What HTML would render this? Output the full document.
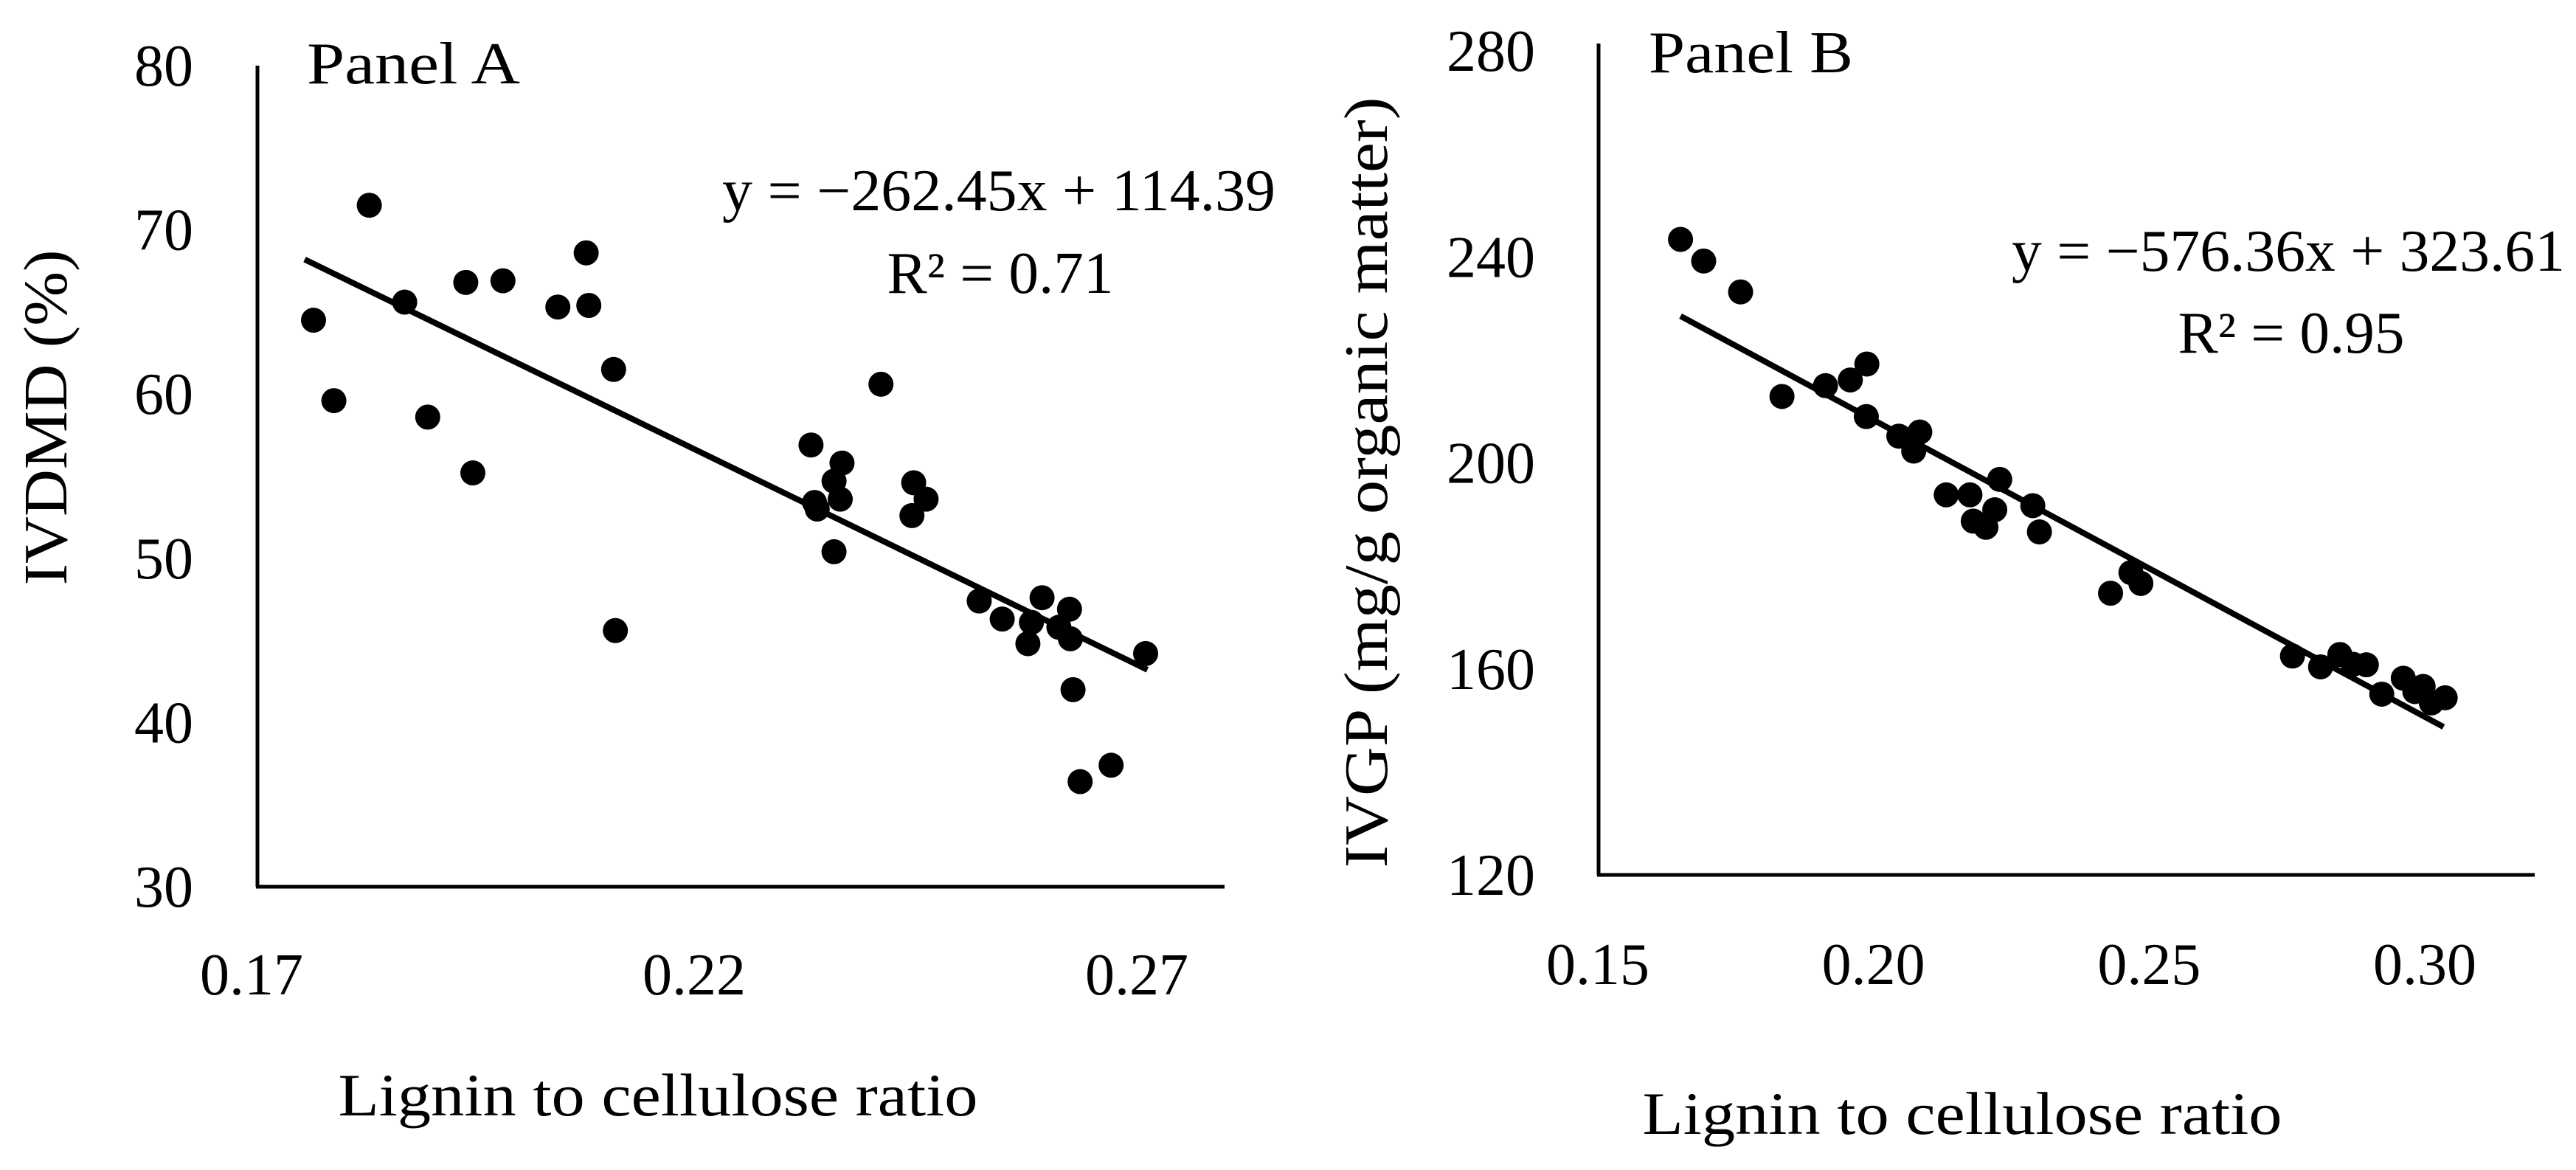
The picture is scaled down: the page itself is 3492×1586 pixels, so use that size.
<!DOCTYPE html>
<html><head><meta charset="utf-8"><style>
html,body{margin:0;padding:0;background:#fff;}
svg{display:block;}
text{font-family:"Liberation Serif",serif;fill:#000;}
</style></head><body>
<svg id="chart" width="3492" height="1586" viewBox="0 0 3492 1586" xmlns="http://www.w3.org/2000/svg">
<g id="panelA"></g>
<g id="panelB"></g>
</svg>
<script>
const NS="http://www.w3.org/2000/svg";
// Panel A data
const aX=[0.1770,0.1793,0.1833,0.1873,0.1899,0.1942,0.1950,0.1984,0.2046,0.2078,0.2081,0.2109,0.2111,0.2332,0.2336,0.2339,0.2358,0.2367,0.2365,0.2358,0.2411,0.2448,0.2462,0.2446,0.2522,0.2548,0.2593,0.2581,0.2577,0.2612,0.2624,0.2625,0.2628,0.2636,0.2671,0.2710];
const aY=[64.5,59.6,71.5,65.6,58.6,66.8,55.2,66.9,65.3,68.6,65.4,61.5,45.6,56.9,53.4,53.0,54.7,55.8,53.6,50.4,60.6,54.6,53.6,52.6,47.4,46.3,47.6,46.1,44.8,45.8,46.9,45.1,42.0,36.4,37.4,44.2];
const aXTicks=[0.17,0.22,0.27];
const aYTicks=[30,40,50,60,70,80];
const aFit=[-262.45,114.39];
const aFitRange=[0.176,0.2712];
// Panel B data
const bX=[0.1650,0.1692,0.1759,0.1834,0.1913,0.1958,0.1988,0.1987,0.2046,0.2084,0.2073,0.2132,0.2175,0.2181,0.2204,0.2220,0.2229,0.2289,0.2301,0.2430,0.2467,0.2485,0.2760,0.2811,0.2846,0.2870,0.2894,0.2922,0.2961,0.2997,0.3012,0.3037,0.2982];
const bY=[243.4,239.2,233.2,212.9,215.0,216.1,219.2,209.0,205.2,206.0,202.3,193.8,193.8,188.7,187.5,190.9,196.8,191.7,186.6,174.7,178.7,176.6,162.5,160.4,162.8,160.9,160.8,155.1,158.2,156.6,153.4,154.4,155.6];
const bXTicks=[0.15,0.20,0.25,0.30];
const bYTicks=[120,160,200,240,280];
const bFit=[-576.36,323.61];
const bFitRange=[0.165,0.3034];

function el(parent,tag,attrs,txt){const e=document.createElementNS(NS,tag);for(const k in attrs)e.setAttribute(k,attrs[k]);if(txt!==undefined)e.textContent=txt;parent.appendChild(e);return e;}

function panel(g,cfg){
  const sx=v=>cfg.x0px+(v-cfg.x0)*(cfg.x1px-cfg.x0px)/(cfg.x1-cfg.x0);
  const sy=v=>cfg.y0px+(v-cfg.y0)*(cfg.y1px-cfg.y0px)/(cfg.y1-cfg.y0);
  let e;
  e=el(g,'line',{x1:cfg.axX,y1:cfg.axTop,x2:cfg.axX,y2:cfg.axY,stroke:'#000','stroke-width':5});
  
  
  e=el(g,'line',{x1:cfg.axX-2,y1:cfg.axY,x2:cfg.axRight,y2:cfg.axY,stroke:'#000','stroke-width':5});
  
  
  cfg.yTicks.forEach(v=>{
    e=el(g,'text',{x:cfg.yLabX,y:sy(v)+27,'text-anchor':'end','font-size':80},String(v));
    
    
  });
  cfg.xTicks.forEach(v=>{
    e=el(g,'text',{x:sx(v),y:cfg.xLabY+27,'text-anchor':'middle','font-size':80},v.toFixed(2));
    
    
  });
  cfg.xs.forEach((v,i)=>{
    e=el(g,'circle',{cx:sx(v),cy:sy(cfg.ys[i]),r:17,fill:'#000'});
    
    
  });
  const f=x=>cfg.fit[0]*x+cfg.fit[1];
  e=el(g,'line',{x1:sx(cfg.fr[0]),y1:sy(f(cfg.fr[0])),x2:sx(cfg.fr[1]),y2:sy(f(cfg.fr[1])),stroke:'#000','stroke-width':8});
  
  
  e=el(g,'text',{x:cfg.eqX,y:cfg.eqY+27,'text-anchor':'middle','font-size':80,textLength:750,lengthAdjust:'spacingAndGlyphs'},cfg.eq);
  
  
  e=el(g,'text',{x:cfg.r2X,y:cfg.r2Y+27,'text-anchor':'middle','font-size':80,textLength:307,lengthAdjust:'spacingAndGlyphs'},cfg.r2);
  
  
  e=el(g,'text',{x:cfg.plX,y:cfg.plY+27,'font-size':80,textLength:cfg.plW,lengthAdjust:'spacingAndGlyphs'},cfg.pl);
  
  
  e=el(g,'text',{x:cfg.xtX,y:cfg.xtY+27,'text-anchor':'middle','font-size':82,textLength:867,lengthAdjust:'spacingAndGlyphs'},'Lignin to cellulose ratio');
  
  
  e=el(g,'text',{x:0,y:0,'text-anchor':'middle','font-size':84,textLength:cfg.ytW,lengthAdjust:'spacingAndGlyphs',transform:`translate(${cfg.ytX+28},${cfg.ytY}) rotate(-90)`},cfg.yt);
  
  
}

panel(document.getElementById('panelA'),{
  xs:aX,ys:aY,xTicks:aXTicks,yTicks:aYTicks,fit:aFit,fr:aFitRange,
  x0:0.17,x1:0.27,x0px:341,x1px:1541,y0:30,y1:80,y0px:1202,y1px:89,
  axX:349,axTop:89,axY:1202,axRight:1660,yLabX:262,xLabY:1321,
  eq:'y = \u2212262.45x + 114.39',eqX:1354,eqY:258,r2:'R\u00b2 = 0.71',r2X:1356,r2Y:370,
  pl:'Panel A',plX:416,plY:86,plW:289,xtX:892,xtY:1485,yt:'IVDMD (%)',ytX:62,ytY:566,ytW:455
});
panel(document.getElementById('panelB'),{
  xs:bX,ys:bY,xTicks:bXTicks,yTicks:bYTicks,fit:bFit,fr:bFitRange,
  x0:0.15,x1:0.30,x0px:2166,x1px:3287,y0:120,y1:280,y0px:1186,y1px:69,
  axX:2167,axTop:59,axY:1186,axRight:3436,yLabX:2081,xLabY:1307,
  eq:'y = \u2212576.36x + 323.61',eqX:3102,eqY:340,r2:'R\u00b2 = 0.95',r2X:3106,r2Y:451,
  pl:'Panel B',plX:2235,plY:71,plW:277,xtX:2660,xtY:1510,yt:'IVGP  (mg/g organic matter)',ytX:1852,ytY:654,ytW:1045
});
</script>
</body></html>
